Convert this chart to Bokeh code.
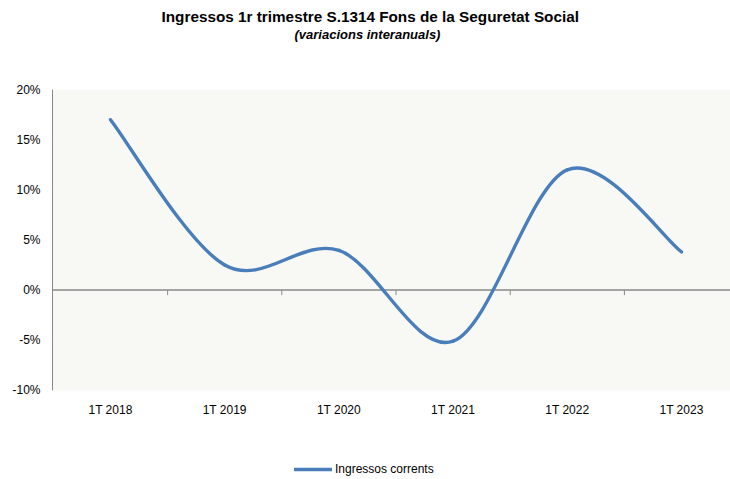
from bokeh.plotting import figure
from bokeh.models import (Range1d, FixedTicker, Span, Title, Legend, BoxAnnotation,
                          LegendItem, ColumnDataSource)
from bokeh.embed import file_html
from bokeh.resources import INLINE

# ---- data ----
categories = ["1T 2018", "1T 2019", "1T 2020", "1T 2021", "1T 2022", "1T 2023"]
ingressos_corrents = [17.0, 2.5, 3.95, -5.1, 12.0, 3.8]
y_ticks = [-10, -5, 0, 5, 10, 15, 20]
y_tick_labels = ["-10%", "-5%", "0%", "5%", "10%", "15%", "20%"]
series_name = "Ingressos corrents"
title_text = "Ingressos 1r trimestre S.1314 Fons de la Seguretat Social"
subtitle_text = "(variacions interanuals)"

LINE_COLOR = "#4A7EBB"
GRID_GRAY = "#8A8A8A"
PLOT_BG = "#F8F8F4"
FONT = "Liberation Sans, Arial, sans-serif"

xs = list(range(len(categories)))
vals = ingressos_corrents

# smooth curve (Catmull-Rom -> cubic Bezier control points, like a spreadsheet "smoothed line")
n = len(vals)
x0, y0, x1, y1, cx0, cy0, cx1, cy1 = ([] for _ in range(8))
for i in range(n - 1):
    pm = max(i - 1, 0)
    pp = min(i + 2, n - 1)
    x0.append(xs[i]); y0.append(vals[i])
    x1.append(xs[i + 1]); y1.append(vals[i + 1])
    cx0.append(xs[i] + (xs[i + 1] - xs[pm]) / 6.0)
    cy0.append(vals[i] + (vals[i + 1] - vals[pm]) / 6.0)
    cx1.append(xs[i + 1] - (xs[pp] - xs[i]) / 6.0)
    cy1.append(vals[i + 1] - (vals[pp] - vals[i]) / 6.0)

src = ColumnDataSource(dict(x0=x0, y0=y0, x1=x1, y1=y1, cx0=cx0, cy0=cy0, cx1=cx1, cy1=cy1))

# frame runs from under the titles down to the bottom of the canvas;
# the shaded plot area (-10%..20%) is drawn as a box annotation
p = figure(width=730, height=479, output_backend="svg", toolbar_location=None,
           x_range=Range1d(-0.508, 5.429), y_range=Range1d(-18.9, 25.3),
           min_border_left=52, min_border_right=0, min_border_bottom=0, min_border_top=0,
           background_fill_color="white", border_fill_color="white", outline_line_color=None)

p.xgrid.visible = False
p.ygrid.visible = False

p.add_layout(BoxAnnotation(bottom=y_ticks[0], top=y_ticks[-1], fill_color=PLOT_BG, fill_alpha=1,
                           line_color=None, level="underlay"))

# y axis
p.yaxis.ticker = FixedTicker(ticks=y_ticks)
p.yaxis.bounds = (y_ticks[0], y_ticks[-1])
p.yaxis.major_label_overrides = {t: l for t, l in zip(y_ticks, y_tick_labels)}
p.yaxis.axis_line_color = GRID_GRAY
p.yaxis.axis_line_width = 1
p.yaxis.major_tick_out = 0
p.yaxis.major_tick_in = 0
p.yaxis.minor_tick_out = 0
p.yaxis.minor_tick_in = 0
p.yaxis.major_label_standoff = 12
p.yaxis.major_label_text_font = FONT
p.yaxis.major_label_text_font_size = "12px"
p.yaxis.major_label_text_color = "black"

# x axis (category labels only), pinned under the shaded area
p.xaxis.fixed_location = y_ticks[0]
p.xaxis.ticker = FixedTicker(ticks=xs)
p.xaxis.major_label_overrides = {x: c for x, c in zip(xs, categories)}
p.xaxis.axis_line_color = None
p.xaxis.major_tick_out = 0
p.xaxis.major_tick_in = 0
p.xaxis.minor_tick_out = 0
p.xaxis.minor_tick_in = 0
p.xaxis.major_label_standoff = 13
p.xaxis.major_label_text_font = FONT
p.xaxis.major_label_text_font_size = "12px"
p.xaxis.major_label_text_color = "black"

# zero line with category separator ticks
p.add_layout(Span(location=0, dimension="width", line_color=GRID_GRAY, line_width=1.5,
                  level="underlay"))
boundaries = [x + 0.5 for x in xs[:-1]]
tick_len = (y_ticks[-1] - y_ticks[0]) / 60.0  # 5 px on the 300 px plot area
p.segment(x0=boundaries, y0=[0] * len(boundaries), x1=boundaries,
          y1=[-tick_len] * len(boundaries), line_color=GRID_GRAY, line_width=1)

# curve
r = p.bezier(x0="x0", y0="y0", x1="x1", y1="y1", cx0="cx0", cy0="cy0", cx1="cx1", cy1="cy1",
             source=src, line_color=LINE_COLOR, line_width=3.4, line_cap="round")

legend = Legend(items=[LegendItem(label=series_name, renderers=[r])],
                location=(242, 3), orientation="horizontal",
                glyph_width=38, glyph_height=14, label_height=14, label_standoff=3,
                padding=0, margin=0, spacing=0, border_line_color=None,
                background_fill_alpha=0, label_text_font=FONT, label_text_font_size="12px",
                label_text_color="black")
p.add_layout(legend)

# titles
p.add_layout(Title(text=subtitle_text, align="left", offset=242, standoff=-11,
                   vertical_align="bottom", text_font=FONT, text_font_style="bold italic",
                   text_font_size="13px", text_color="black"), "above")
p.add_layout(Title(text=title_text, align="left", offset=109, standoff=11,
                   vertical_align="bottom", text_font=FONT, text_font_style="bold",
                   text_font_size="15.3px", text_color="black"), "above")

open("out.html", "w").write(file_html(p, INLINE))
